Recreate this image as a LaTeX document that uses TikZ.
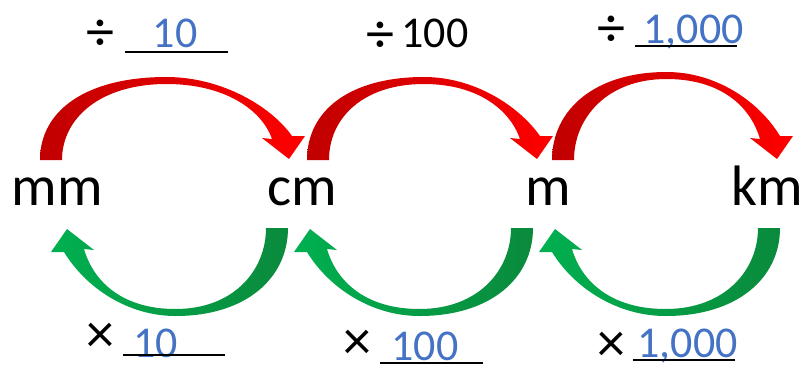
\documentclass[tikz,border=0pt]{standalone}
\usepackage{fontspec}
\setmainfont{Carlito}
\definecolor{numblue}{HTML}{4472C4}
\definecolor{divred}{HTML}{FF0000}
\definecolor{divdark}{HTML}{C00000}
\definecolor{mulgreen}{HTML}{00B050}
\definecolor{muldark}{HTML}{0A8A3C}
% #1 style, #2 tail x (outer edge), #3 tip x, #4 foot y, #5 apex y
\newcommand\bendarrow[5]{%
  \pgfmathsetmacro\sx{(#3>#2)?1:-1}%
  \pgfmathsetmacro\sy{(#5>#4)?1:-1}%
  \pgfmathsetmacro\hw{abs(#3-#2)/2}%
  \pgfmathsetmacro\mx{(#2+#3)/2+2*(\sx)}%
  \shade[#1] (#2,#4)
    .. controls (#2,{#4+(\sy)*50}) and ({\mx-(\sx)*0.64*\hw},#5) .. (\mx,#5)
    .. controls ({\mx+(\sx)*0.43*\hw},#5) and ({#3-(\sx)*19},{#5-(\sy)*28}) .. ({#3+(\sx)*3},{#4+(\sy)*24})
    -- ({#3+(\sx)*16},{#4+(\sy)*24}) -- (#3,{#4+(\sy)*1}) -- ({#3-(\sx)*27},{#4+(\sy)*22}) -- ({#3-(\sx)*17},{#4+(\sy)*21})
    .. controls ({#3-(\sx)*27},{#5-(\sy)*33}) and ({\mx+(\sx)*0.47*\hw},{#5-(\sy)*7}) .. (\mx,{#5-(\sy)*7})
    .. controls ({\mx-(\sx)*0.53*\hw},{#5-(\sy)*7}) and ({#2+(\sx)*22},{#4+(\sy)*42}) .. ({#2+(\sx)*22},#4) -- cycle;}
\begin{document}
\begin{tikzpicture}[x=1pt, y=-1pt,
  unit/.style={font=\fontsize{57}{60}\selectfont, anchor=base, inner sep=0pt},
  op/.style={font=\fontsize{56}{60}\selectfont, inner sep=0pt},
  num/.style={font=\fontsize{44}{48}\selectfont, inner sep=0pt, anchor=base, text=numblue},
  divarrow/.style={left color=divdark, right color=divred},
  mularrow/.style={left color=mulgreen, right color=muldark},
  blank/.style={line width=1.6pt}]
  \useasboundingbox (0,0) rectangle (805,367);
  % red arrows above (divide), green arrows below (multiply)
  \bendarrow{divarrow}{40}{289}{160}{77}
  \bendarrow{divarrow}{307}{537}{160}{77}
  \bendarrow{divarrow}{552}{777}{160}{72}
  \bendarrow{mularrow}{288}{67}{228}{316}
  \bendarrow{mularrow}{533}{310}{228}{316}
  \bendarrow{mularrow}{780}{555}{228}{316}
  % units
  \foreach \u/\x in {mm/57.5,cm/302.5,m/548,km/767.5}
    \node[unit] (\u) at (\x,205) {\u};
  % divide labels
  \node[op] (d1) at (100,35) {÷};
  \node[num] (n1) at (175,47) {10};
  \draw[blank] (125,52) -- (228,52);
  \node[op] (d2) at (380,37) {÷};
  \node[num, text=black] (n2) at (435,47) {100};
  \node[op] (d3) at (611,31) {÷};
  \node[num] (n3) at (693.5,43) {1,000};
  \draw[blank] (635,46) -- (737,46);
  % multiply labels
  \node[op] (m1) at (100,338) {×};
  \node[num] (k1) at (155.5,357) {10};
  \draw[blank] (123,355) -- (225,355);
  \node[op] (m2) at (357.5,345) {×};
  \node[num] (k2) at (425,360) {100};
  \draw[blank] (380,363) -- (483,363);
  \node[op] (m3) at (611,347) {×};
  \node[num] (k3) at (687.5,357) {1,000};
  \draw[blank] (633,360) -- (735,360);
\end{tikzpicture}
\end{document}
